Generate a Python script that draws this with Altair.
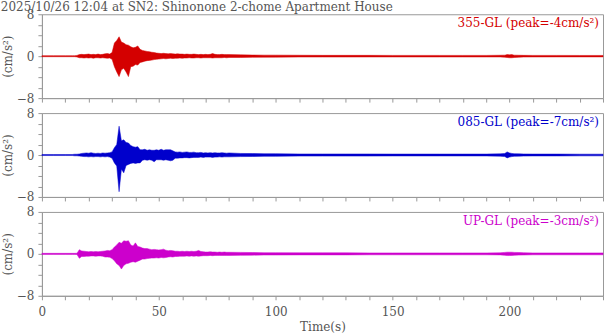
import altair as alt
import pandas as pd

# ---------------- data ----------------
TITLE = "2025/10/26 12:04 at SN2: Shinonone 2-chome Apartment House"
CHANNELS = ["355-GL", "085-GL", "UP-GL"]
PEAKS = [-4, -7, -3]
COLORS = ["#d40000", "#0000cc", "#cc00cc"]
X_TICKS = [0, 10, 20, 30, 40, 50, 60, 70, 80, 90, 100, 110, 120, 130, 140, 150,
           160, 170, 180, 190, 200, 210, 220, 230, 240]
Y_TICKS = [-8, -6, -4, -2, 0, 2, 4, 6, 8]

# sample times (s) of the envelope knots
TIME = ([0, 5, 10, 13]
        + [14, 15, 16, 17, 18, 19, 20, 21, 22, 23, 24, 25, 26, 27, 28, 29, 30, 31, 32, 33,
           34, 35, 36, 37, 38, 39, 40, 41, 42, 43, 44, 45, 46, 47, 48, 49, 50, 51, 52, 53,
           54, 55, 56, 57, 58, 59, 60, 61, 62, 63, 64, 65, 66, 67, 68, 69, 70, 71, 72, 73,
           74, 75, 76, 77, 78, 79, 80]
        + [85, 90, 95, 100, 110, 120, 130, 140, 150, 160, 170, 180, 190,
           196, 198, 199, 200, 201, 202, 204, 206, 210, 220, 230, 240])

# 355-GL upper / lower envelope (cm/s2)
NS_UP = [0.1, 0.1, 0.1, 0.1,
         0.1, 0.15, 0.3, 0.35, 0.3, 0.35, 0.4, 0.3, 0.35, 0.3,
         0.4, 0.3, 0.35, 0.45, 0.5, 0.4, 0.7, 2.5, 3.0, 3.7,
         2.7, 2.5, 2.2, 2.1, 1.8, 1.6, 1.7, 1.95, 1.3, 1.1,
         1.0, 0.9, 0.85, 0.75, 0.7, 0.6, 0.55, 0.5, 0.55, 0.5,
         0.45, 0.5, 0.45, 0.4, 0.45, 0.4, 0.4, 0.35, 0.4, 0.35,
         0.35, 0.4, 0.35, 0.3, 0.35, 0.3, 0.35, 0.3, 0.35, 0.5,
         0.35, 0.3, 0.3, 0.35, 0.3, 0.3, 0.3,
         0.25, 0.22, 0.2, 0.2, 0.18, 0.16, 0.16, 0.16, 0.15, 0.15, 0.15, 0.15, 0.15,
         0.18, 0.2, 0.3, 0.25, 0.3, 0.2, 0.18, 0.16, 0.15, 0.15, 0.14, 0.14]
NS_LO = [-0.1, -0.1, -0.1, -0.1,
         -0.1, -0.15, -0.3, -0.3, -0.35, -0.3, -0.35, -0.3, -0.4, -0.3,
         -0.3, -0.35, -0.3, -0.35, -0.4, -0.35, -0.6, -2.0, -3.0, -3.9,
         -2.6, -2.3, -3.0, -3.9, -2.0, -1.9, -1.6, -1.7, -1.2, -1.1,
         -0.95, -0.85, -0.8, -0.75, -0.65, -0.6, -0.55, -0.5, -0.45, -0.5,
         -0.45, -0.4, -0.45, -0.4, -0.4, -0.35, -0.4, -0.35, -0.35, -0.3,
         -0.35, -0.35, -0.3, -0.3, -0.35, -0.3, -0.3, -0.3, -0.3, -0.35,
         -0.3, -0.3, -0.3, -0.3, -0.25, -0.3, -0.25,
         -0.25, -0.22, -0.2, -0.18, -0.16, -0.16, -0.16, -0.15, -0.15, -0.15, -0.15, -0.15, -0.15,
         -0.15, -0.2, -0.25, -0.3, -0.3, -0.25, -0.2, -0.16, -0.15, -0.14, -0.14, -0.14]

# 085-GL
EW_UP = [0.1, 0.1, 0.1, 0.1,
         0.15, 0.15, 0.2, 0.3, 0.35, 0.4, 0.35, 0.45, 0.35, 0.3,
         0.35, 0.3, 0.4, 0.35, 0.4, 0.45, 0.6, 1.4, 2.0, 5.5,
         2.7, 2.9, 2.4, 2.3, 1.8, 1.6, 1.5, 1.6, 1.0, 1.0,
         1.1, 0.9, 1.0, 0.9, 0.9, 1.0, 0.9, 1.1, 0.9, 1.0,
         1.0, 1.0, 0.8, 0.6, 0.55, 0.6, 0.5, 0.55, 0.6, 0.5,
         0.5, 0.55, 0.45, 0.45, 0.5, 0.4, 0.45, 0.4, 0.45, 0.4,
         0.45, 0.4, 0.4, 0.45, 0.4, 0.35, 0.4,
         0.3, 0.28, 0.25, 0.25, 0.2, 0.2, 0.2, 0.2, 0.18, 0.18, 0.18, 0.18, 0.18,
         0.22, 0.3, 0.6, 0.4, 0.3, 0.25, 0.22, 0.2, 0.18, 0.18, 0.16, 0.16]
EW_LO = [-0.1, -0.1, -0.1, -0.1,
         -0.15, -0.15, -0.2, -0.25, -0.3, -0.3, -0.35, -0.3, -0.35, -0.3,
         -0.3, -0.35, -0.3, -0.35, -0.3, -0.4, -0.6, -1.5, -2.1, -7.0,
         -2.7, -3.4, -2.0, -1.8, -1.6, -1.5, -1.6, -1.5, -1.5, -1.0,
         -0.9, -1.0, -0.9, -1.0, -1.3, -0.9, -0.9, -0.9, -1.0, -0.9,
         -1.0, -1.1, -1.0, -0.6, -0.6, -0.55, -0.55, -0.5, -0.5, -0.55,
         -0.5, -0.45, -0.45, -0.45, -0.4, -0.45, -0.4, -0.4, -0.4, -0.45,
         -0.4, -0.4, -0.35, -0.4, -0.35, -0.35, -0.35,
         -0.3, -0.28, -0.25, -0.25, -0.2, -0.2, -0.2, -0.2, -0.18, -0.18, -0.18, -0.18, -0.18,
         -0.22, -0.3, -0.55, -0.4, -0.3, -0.25, -0.22, -0.2, -0.18, -0.18, -0.16, -0.16]

# UP-GL
UD_UP = [0.1, 0.1, 0.1, 0.1,
         0.1, 0.12, 0.8, 0.55, 0.5, 0.45, 0.4, 0.45, 0.4, 0.45,
         0.4, 0.45, 0.5, 0.55, 0.65, 0.6, 0.8, 1.3, 1.7, 2.2,
         2.0, 2.5, 2.4, 2.5, 1.7, 1.5, 2.1, 1.4, 1.3, 1.1,
         1.0, 1.0, 0.9, 0.8, 0.85, 0.8, 0.75, 0.8, 0.9, 0.7,
         0.6, 0.65, 0.6, 0.5, 0.5, 0.45, 0.5, 0.45, 0.5, 0.45,
         0.5, 0.45, 0.5, 0.65, 0.45, 0.4, 0.35, 0.35, 0.4, 0.35,
         0.35, 0.3, 0.35, 0.3, 0.35, 0.3, 0.3,
         0.28, 0.25, 0.22, 0.22, 0.2, 0.2, 0.2, 0.18, 0.18, 0.18, 0.18, 0.18, 0.18,
         0.2, 0.28, 0.32, 0.32, 0.32, 0.28, 0.26, 0.22, 0.18, 0.18, 0.18, 0.18]
UD_LO = [-0.1, -0.1, -0.1, -0.1,
         -0.1, -0.12, -0.85, -0.5, -0.5, -0.45, -0.45, -0.4, -0.4, -0.45,
         -0.4, -0.4, -0.45, -0.6, -0.6, -0.65, -0.9, -1.3, -1.9, -2.2,
         -2.9, -2.2, -1.9, -1.8, -1.6, -1.5, -1.6, -1.4, -1.2, -1.0,
         -1.0, -0.9, -0.85, -0.8, -0.8, -0.75, -0.8, -0.7, -0.75, -0.7,
         -0.6, -0.55, -0.6, -0.5, -0.5, -0.45, -0.45, -0.45, -0.4, -0.45,
         -0.4, -0.45, -0.4, -0.45, -0.4, -0.35, -0.35, -0.35, -0.3, -0.35,
         -0.3, -0.3, -0.3, -0.3, -0.3, -0.3, -0.3,
         -0.28, -0.25, -0.22, -0.22, -0.2, -0.2, -0.2, -0.18, -0.18, -0.18, -0.18, -0.18, -0.18,
         -0.2, -0.28, -0.32, -0.32, -0.3, -0.28, -0.24, -0.22, -0.18, -0.18, -0.18, -0.18]

UPPERS = [NS_UP, EW_UP, UD_UP]
LOWERS = [NS_LO, EW_LO, UD_LO]

# ---------------- styling ----------------
FONT = "DejaVu Serif"
FS = 12
GRAY = "#555555"
FRAME = "#999999"
W, H = 562, 84


def panel(i, last):
    df = pd.DataFrame({"t": TIME, "up": UPPERS[i], "lo": LOWERS[i]})
    xaxis_kw = dict(values=X_TICKS, labelExpr="datum.value % 50 == 0 ? datum.label : ''",
                    labels=last, grid=False, tickSize=4, tickColor=FRAME, domainColor=FRAME,
                    labelFlush=False, labelFont=FONT, labelFontSize=FS, labelColor=GRAY,
                    labelPadding=7, titleFont=FONT, titleFontSize=FS, titleFontWeight="normal",
                    titleColor=GRAY, titlePadding=4)
    x = alt.X("t:Q", scale=alt.Scale(domain=[0, 240], nice=False, zero=False),
              axis=alt.Axis(**xaxis_kw),
              title="Time(s)" if last else None)
    y = alt.Y("lo:Q", scale=alt.Scale(domain=[-8, 8], nice=False),
              axis=alt.Axis(values=Y_TICKS,
                            labelExpr="datum.value % 8 == 0 ? datum.label : ''",
                            grid=False, tickSize=4, tickColor=FRAME, domainColor=FRAME,
                            labelFont=FONT, labelFontSize=FS, labelColor=GRAY, labelPadding=4,
                            titleFont=FONT, titleFontSize=FS, titleFontWeight="normal",
                            titleColor=GRAY, titlePadding=2),
              title="(cm/s²)")
    area = alt.Chart(df).mark_area(color=COLORS[i], stroke=COLORS[i], strokeWidth=0.5,
                                   interpolate="linear").encode(x=x, y=y, y2="up:Q")
    lab_df = pd.DataFrame({"label": [f"{CHANNELS[i]} (peak={PEAKS[i]}cm/s²)"]})
    label = alt.Chart(lab_df).mark_text(align="right", baseline="top", font=FONT,
                                        fontSize=FS, color=COLORS[i]).encode(
        x=alt.value(W - 4), y=alt.value(4), text="label:N")
    return alt.layer(area, label).properties(width=W, height=H)


chart = alt.vconcat(panel(0, False), panel(1, False), panel(2, True),
                    spacing=15, bounds="flush").properties(
    title=alt.TitleParams(TITLE, anchor="start", frame="bounds", font=FONT, fontSize=FS,
                          fontWeight="normal", color=GRAY, offset=-6),
    padding={"left": 0, "top": 0, "right": 0, "bottom": 0},
    background="white",
).configure_view(stroke=FRAME, strokeWidth=1)

chart.save("out.html", embed_options={"renderer": "svg", "actions": False})
